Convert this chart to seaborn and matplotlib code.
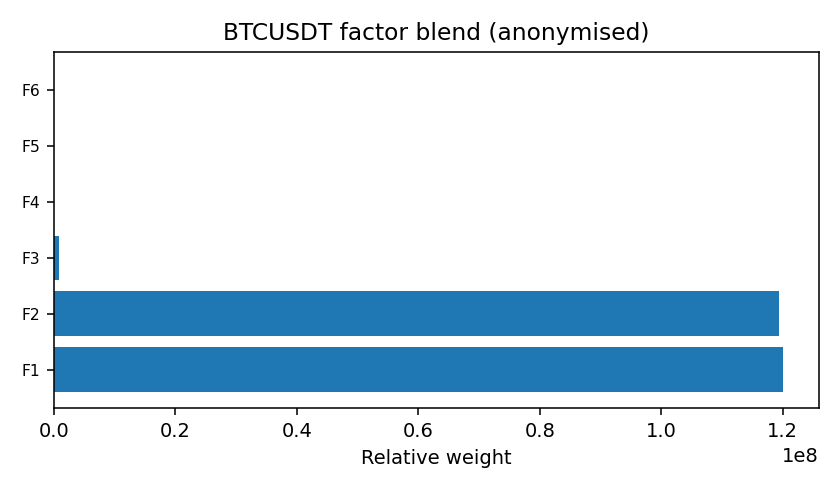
import matplotlib
matplotlib.use("Agg")
from matplotlib import pyplot as plt
import seaborn as sns
import pandas as pd

factors = ["F1", "F2", "F3", "F4", "F5", "F6"]
weights = [1.2e8, 1.194e8, 8.5e5, 0.0, 0.0, 0.0]

df = pd.DataFrame({"factor": factors, "weight": weights})

fig, ax = plt.subplots(figsize=(6, 3.5), dpi=140)
sns.barplot(data=df, x="weight", y="factor", order=factors[::-1],
            color="#1f77b4", saturation=1, width=0.8, ax=ax)
# matplotlib-style 5% margins around the bars (seaborn clips to +-0.5)
n = len(factors)
pad = 0.05 * (n - 0.2)
ax.set_ylim(n - 0.6 + pad, -0.4 - pad)
ax.set_title("BTCUSDT factor blend (anonymised)")
ax.set_xlabel("Relative weight")
ax.set_ylabel("")
ax.tick_params(axis="y", labelsize=8)
plt.subplots_adjust(left=0.0643, right=0.975, top=0.894, bottom=0.167)
plt.savefig("out.png", dpi=140)
